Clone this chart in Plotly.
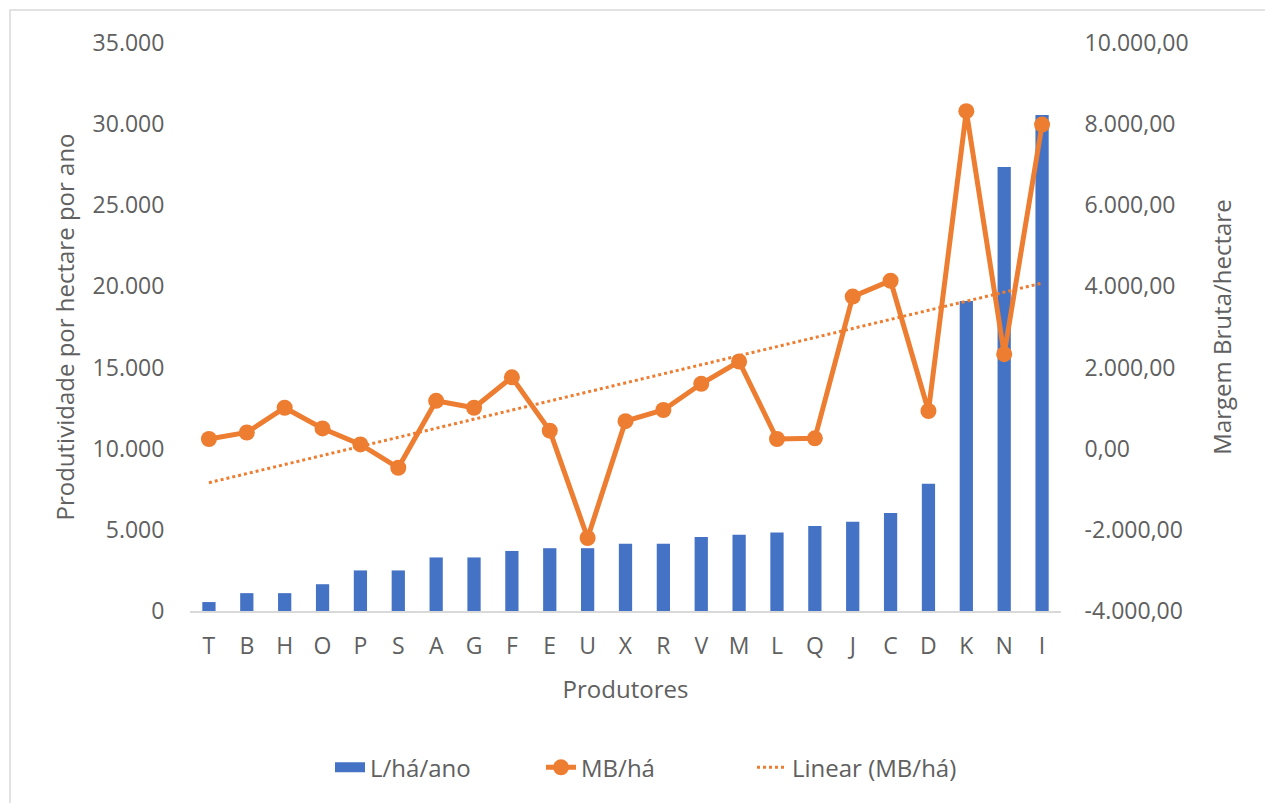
import numpy as np
import plotly.graph_objects as go

produtores = ["T", "B", "H", "O", "P", "S", "A", "G", "F", "E", "U", "X",
              "R", "V", "M", "L", "Q", "J", "C", "D", "K", "N", "I"]
litros_ha_ano = [550, 1100, 1100, 1650, 2500, 2500, 3300, 3300, 3700, 3870, 3870, 4150,
                 4150, 4560, 4700, 4830, 5240, 5500, 6040, 7840, 19100, 27360, 30560]
mb_ha = [240, 400, 1010, 500, 105, -470, 1180, 1010, 1760, 445, -2200, 680,
         955, 1600, 2150, 240, 255, 3750, 4140, 930, 8320, 2330, 7990]

left_tickvals = [0, 5000, 10000, 15000, 20000, 25000, 30000, 35000]
left_ticktext = ["0", "5.000", "10.000", "15.000", "20.000", "25.000", "30.000", "35.000"]
right_tickvals = [-4000, -2000, 0, 2000, 4000, 6000, 8000, 10000]
right_ticktext = ["-4.000,00", "-2.000,00", "0,00", "2.000,00", "4.000,00",
                  "6.000,00", "8.000,00", "10.000,00"]

# Linear trendline (least squares, as in the spreadsheet's "Linear" trendline)
idx = np.arange(1, len(mb_ha) + 1)
slope, intercept = np.polyfit(idx, np.array(mb_ha, dtype=float), 1)
trend = (slope * idx + intercept).tolist()

BLUE = "#4472C4"
ORANGE = "#ED7D31"
TXT = "#606060"
FONT = "Open Sans"

fig = go.Figure()
fig.add_trace(go.Bar(x=produtores, y=litros_ha_ano, name="L/há/ano", showlegend=False,
                     marker=dict(color=BLUE, line=dict(width=0)), yaxis="y"))
# legend entry for the bars, drawn as a wide block like the original
fig.add_trace(go.Scatter(x=[None], y=[None], name="L/há/ano", mode="lines",
                         line=dict(color=BLUE, width=14), yaxis="y"))
fig.add_trace(go.Scatter(x=produtores, y=mb_ha, name="MB/há", mode="lines+markers",
                         line=dict(color=ORANGE, width=5),
                         marker=dict(color=ORANGE, size=16, symbol="circle"),
                         yaxis="y2"))
fig.add_trace(go.Scatter(x=produtores, y=trend, name="Linear (MB/há)", mode="lines",
                         line=dict(color=ORANGE, width=3, dash="dot"),
                         yaxis="y2"))

fig.update_layout(
    width=1265, height=803,
    margin=dict(l=190, r=204, t=43, b=192),
    paper_bgcolor="white", plot_bgcolor="white",
    font=dict(family=FONT, size=23, color=TXT),
    bargap=0.65,
    showlegend=True,
    legend=dict(orientation="h", x=(330 - 190) / 871, xanchor="left",
                y=-0.276, yanchor="middle", entrywidth=166,
                font=dict(size=24, color=TXT), traceorder="normal"),
    xaxis=dict(type="category", range=[-0.5, 22.5], showgrid=False, zeroline=False,
               showline=True, linecolor="#D9D9D9", linewidth=2,
               ticks="outside", ticklen=13, tickcolor="rgba(0,0,0,0)",
               tickfont=dict(size=23, color=TXT),
               title=dict(text="Produtores", font=dict(size=24, color=TXT), standoff=22)),
    yaxis=dict(range=[0, 35000], tickvals=left_tickvals, ticktext=left_ticktext,
               showgrid=False, zeroline=False, showline=False,
               ticks="outside", ticklen=20, tickcolor="rgba(0,0,0,0)",
               tickfont=dict(size=23, color=TXT),
               title=dict(text="Produtividade por hectare por ano",
                          font=dict(size=24, color=TXT), standoff=11)),
    yaxis2=dict(range=[-4000, 10000], tickvals=right_tickvals, ticktext=right_ticktext,
                overlaying="y", side="right",
                showgrid=False, zeroline=False, showline=False,
                ticks="outside", ticklen=18, tickcolor="rgba(0,0,0,0)",
                tickfont=dict(size=23, color=TXT),
                title=dict(text="Margem Bruta/hectare",
                           font=dict(size=24, color=TXT), standoff=26)),
    shapes=[dict(type="rect", xref="paper", yref="paper",
                 x0=(10 - 190) / 871, x1=(1300 - 190) / 871,
                 y0=(611 - 830) / 568, y1=(611 - 10) / 568,
                 line=dict(color="#D9D9D9", width=1.5), layer="below")],
)

fig.write_html("out.html")
